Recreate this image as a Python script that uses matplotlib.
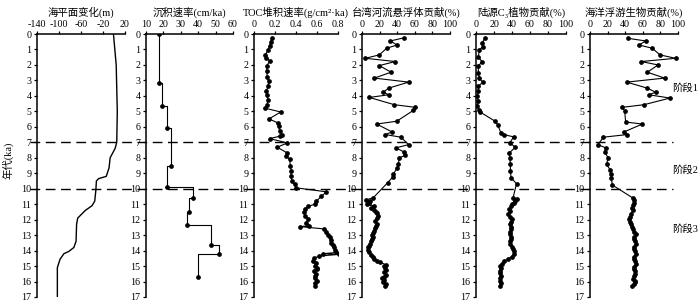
import numpy as np
import matplotlib
matplotlib.use("Agg")
import matplotlib.pyplot as plt
from matplotlib.lines import Line2D
from matplotlib.transforms import blended_transform_factory

plt.rcParams['font.family'] = ['Liberation Serif', 'Noto Sans CJK SC', 'DejaVu Sans']
plt.rcParams['axes.unicode_minus'] = True

# ---- data (ages in ka) ----
sea_age = [0, 2, 5, 7, 7.4, 8, 8.65, 9.2, 9.35, 9.5, 10.1, 10.8, 11.1, 11.4, 11.9,
           12.3, 13.4, 13.8, 14.05, 14.2, 14.55, 15.1, 17]
sea_level = [-1, 4, 6, 5, 2, -7, -9, -14, -28, -32, -33, -35, -40, -52, -66,
             -68, -69, -73, -82, -91, -98, -103, -103]

sed_age = [0, 3.18, 4.68, 6.07, 8.54, 9.87, 10.62, 11.48, 12.36, 13.65, 14.23, 15.73]
sed_rate = [17.6, 17.6, 19.0, 21.8, 24.3, 22.2, 37.1, 34.8, 33.3, 47.2, 51.8, 39.6]

toc_age = [0.23, 0.5, 0.75, 1.03, 1.35, 1.55, 1.74, 2.04, 2.42, 2.81, 3.07, 3.39, 3.71,
           3.97, 4.25, 4.57, 4.8, 5.04, 5.49, 5.75, 5.97, 6.29, 6.5, 6.6, 6.76, 7.04,
           7.32, 7.68, 7.9, 8.1, 8.54, 8.86, 9.18, 9.5, 9.72, 9.94,
           10.2, 10.5, 10.8, 11.0, 11.15, 11.33, 11.5, 11.76, 11.95, 12.19, 12.4, 12.45,
           12.6, 12.83, 13.0, 13.15, 13.3, 13.48, 13.65, 13.8, 13.95, 14.12, 14.2, 14.25,
           14.35, 14.5, 14.65, 14.8, 14.98, 15.1, 15.19, 15.3, 15.5, 15.65, 15.8, 15.94,
           16.1, 16.27]
toc_rate = [0.171, 0.159, 0.149, 0.133, 0.108, 0.117, 0.149, 0.124, 0.121, 0.127, 0.140,
            0.133, 0.117, 0.124, 0.133, 0.124, 0.108, 0.254, 0.143, 0.229, 0.235, 0.244,
            0.267, 0.251, 0.149, 0.317, 0.222, 0.314, 0.308, 0.340, 0.346, 0.356, 0.349,
            0.362, 0.387, 0.397,
            0.689, 0.64, 0.594, 0.578, 0.514, 0.489, 0.476, 0.489, 0.514, 0.498, 0.524,
            0.441, 0.667, 0.689, 0.70, 0.72, 0.73, 0.737, 0.75, 0.759, 0.77, 0.784, 0.66,
            0.806, 0.62, 0.57, 0.56, 0.594, 0.578, 0.60, 0.603, 0.571, 0.594, 0.585, 0.578,
            0.600, 0.578, 0.584]

tw_age = [0.24, 0.45, 0.71, 0.92, 1.35, 1.57, 1.78, 2.04, 2.47, 2.85, 3.11, 3.5, 3.76,
          3.93, 4.1, 4.57, 4.74, 4.94, 5.64, 5.82, 6.33, 6.5, 6.67, 7.15, 7.36, 7.64,
          7.85, 8.0, 8.43, 8.69, 9.08, 9.25, 9.61,
          10.58, 10.73, 10.82, 10.9, 11.0, 11.12, 11.25, 11.35, 11.48, 11.6, 11.76, 11.9,
          12.08, 12.25, 12.4, 12.55, 12.73, 12.85, 12.98, 13.1, 13.26, 13.4, 13.58, 13.7,
          13.8, 13.95, 14.12, 14.3, 14.44, 14.55, 14.65, 14.76, 14.91, 15.0, 15.13, 15.25,
          15.41, 15.56, 15.68, 15.77, 15.9, 16.05, 16.15, 16.27]
tw_pct = [48.1, 32.2, 39.8, 28.0, 19.7, 3.8, 37.9, 19.7, 33.0, 14.0, 53.0, 30.3, 24.2,
          30.3, 8.3, 36.7, 60.6, 58.3, 39.4, 16.7, 34.1, 26.5, 44.3, 53.0, 38.6, 48.1,
          48.9, 42.4, 41.3, 39.4, 35.6, 34.8, 29.2,
          12.9, 4.5, 9.5, 8.3, 5.7, 14.0, 10.2, 13.5, 15.9, 17.0, 17.8, 16.5,
          15.2, 16.8, 15.9, 14.5, 14.0, 12.5, 11.4, 12.0, 11.0, 10.0, 9.1, 8.0,
          6.4, 7.0, 7.6, 10.0, 12.1, 14.0, 17.0, 20.5, 27.3, 25.5, 26.5, 27.5,
          25.4, 27.3, 24.5, 22.7, 25.0, 24.2, 27.0, 26.5]

c3_age = [0.28, 0.6, 0.82, 1.03, 1.46, 1.78, 2.1, 2.53, 2.85, 3.11, 3.39, 3.71, 4.03,
          4.36, 4.68, 4.89, 5.04, 5.64, 5.86, 6.39, 6.5, 6.65, 7.04, 7.32, 7.68, 8.0,
          8.43, 8.86, 9.29, 9.68,
          10.58, 10.69, 10.8, 10.9, 11.0, 11.12, 11.3, 11.44, 11.65, 11.8, 11.97, 12.15,
          12.3, 12.45, 12.62, 12.8, 12.94, 13.1, 13.26, 13.4, 13.58, 13.75, 13.9, 14.05,
          14.23, 14.4, 14.55, 14.7, 14.85, 14.98, 15.15, 15.3, 15.45, 15.62, 15.8, 15.94,
          16.1, 16.27]
c3_pct = [10.1, 6.4, 7.5, 3.7, 2.6, 6.4, 2.6, 2.6, 3.7, 7.5, 2.6, 2.6, 1.5,
          2.6, 1.5, 3.7, 4.5, 21.3, 24.0, 27.7, 30.7, 41.9, 37.5, 43.8, 37.1, 37.5,
          38.2, 38.2, 39.0, 45.0,
          41.2, 45.7, 43.5, 41.9, 40.5, 39.0, 37.0, 38.2, 35.2, 37.5, 40.1, 39.0,
          37.5, 38.5, 39.0, 38.0, 37.5, 38.5, 39.0, 38.0, 38.2, 40.0, 41.2, 42.0,
          41.9, 39.5, 35.2, 30.7, 28.5, 27.0, 27.5, 26.2, 27.0, 27.7, 26.5, 26.2,
          27.5, 27.0]

mp_age = [0.28, 0.45, 0.71, 0.92, 1.35, 1.57, 1.78, 2.0, 2.47, 2.85, 3.11, 3.5, 3.76,
          3.93, 4.14, 4.57, 4.74, 4.96, 5.69, 5.82, 6.33, 6.5, 6.67, 7.15, 7.36, 7.62,
          8.0, 8.43, 8.76, 9.08, 9.33, 9.76,
          10.62, 10.75, 10.9, 11.05, 11.22, 11.4, 11.65, 11.8, 11.97, 12.15, 12.3, 12.45,
          12.62, 12.8, 12.94, 13.1, 13.26, 13.4, 13.58, 13.75, 13.9, 14.05, 14.23, 14.4,
          14.55, 14.7, 14.87, 15.05, 15.19, 15.35, 15.5, 15.65, 15.84, 15.95, 16.05, 16.15,
          16.27]
mp_pct = [43.2, 63.3, 55.7, 70.8, 79.5, 97.3, 58.3, 77.3, 65.2, 84.8, 41.7, 65.2, 74.6,
          67.0, 90.9, 61.4, 36.7, 39.4, 40.5, 59.5, 38.6, 42.4, 15.2, 9.1, 17.8, 16.7,
          20.5, 18.9, 22.7, 23.5, 24.2, 25.4,
          49.2, 50.5, 50.0, 49.0, 48.1, 48.5, 47.0, 46.0, 44.3, 45.5, 46.2, 47.5,
          49.2, 50.5, 51.9, 50.5, 50.0, 51.5, 51.9, 50.5, 50.0, 51.0, 51.9, 50.5,
          50.0, 51.0, 51.9, 50.5, 50.0, 51.0, 50.8, 49.5, 49.2, 51.0, 50.8, 49.5,
          48.1]

titles = ['海平面变化(m)', '沉积速率(cm/ka)', 'TOC堆积速率(g/cm²·ka)',
          '台湾河流悬浮体贡献(%)', '陆源C₃植物贡献(%)', '海洋浮游生物贡献(%)']
xlims = [(-140, 20), (10, 60), (0, 0.8), (0, 100), (0, 100), (0, 100)]
xticks = [[-140, -100, -60, -20, 20], [10, 20, 30, 40, 50, 60],
          [0, 0.2, 0.4, 0.6, 0.8], [0, 20, 40, 60, 80, 100],
          [0, 20, 40, 60, 80, 100], [0, 20, 40, 60, 80, 100]]
xticklabels = [['-140', '-100', '-60', '-20', '20'], None,
               ['0', '0.2', '0.4', '0.6', '0.8'], None, None, None]
stage_labels = ['阶段1', '阶段2', '阶段3']
stage_age = [3.5, 8.8, 12.6]
boundaries = [7, 10]

W, H = 700, 304
fig = plt.figure(figsize=(7.0, 3.04), dpi=100)
lefts = [37, 146, 254, 362, 476, 590]
widths = [88, 87, 84, 88, 90, 88]
top_px, bot_px = 34, 297

axes = []
for i in range(6):
    ax = fig.add_axes([lefts[i] / W, 1 - bot_px / H, widths[i] / W, (bot_px - top_px) / H])
    ax.set_ylim(17, 0)
    ax.set_xlim(*xlims[i])
    ax.set_yticks(range(0, 18))
    ax.set_xticks(xticks[i])
    if xticklabels[i] is not None:
        ax.set_xticklabels(xticklabels[i])
    ax.xaxis.tick_top()
    ax.spines['right'].set_visible(False)
    ax.spines['bottom'].set_visible(False)
    for s in ['left', 'top']:
        ax.spines[s].set_linewidth(1.1)
    ax.tick_params(axis='y', direction='out', length=2.5, width=0.9, pad=1.5, labelsize=7.2)
    ax.tick_params(axis='x', direction='out', length=2, width=0.9, pad=1.5, labelsize=7.2)
    ax.set_title(titles[i], fontsize=7.5, pad=3)
    ax.patch.set_alpha(0)
    axes.append(ax)

lw, ms = 0.8, 2.4
axes[0].plot(sea_level, sea_age, color='black', lw=1.0)

# step curve for sedimentation rate
px, py = [sed_rate[0]], [sed_age[0]]
for i in range(1, len(sed_age)):
    px += [sed_rate[i], sed_rate[i]]
    py += [sed_age[i - 1], sed_age[i]]
axes[1].plot(px, py, color='black', lw=lw)
axes[1].plot(sed_rate, sed_age, 'o', color='black', ms=ms)

for ax, x, y in [(axes[2], toc_rate, toc_age), (axes[3], tw_pct, tw_age),
                 (axes[4], c3_pct, c3_age), (axes[5], mp_pct, mp_age)]:
    ax.plot(x, y, '-o', color='black', lw=lw, ms=ms)

# dashed stage boundaries across all panels
tr = blended_transform_factory(fig.transFigure, axes[0].transData)
for b in boundaries:
    fig.add_artist(Line2D([30 / W, 673 / W], [b, b], transform=tr, color='black',
                          lw=1.0, linestyle=(0, (7, 4)), zorder=0))

for lab, a in zip(stage_labels, stage_age):
    fig.text(672 / W, a, lab, transform=tr, fontsize=7.5, va='center', ha='left')

fig.text(8 / W, 1 - 160 / H, '年代(ka)', rotation=90, fontsize=7.5, va='center', ha='center')

fig.savefig('out.png', dpi=100)
